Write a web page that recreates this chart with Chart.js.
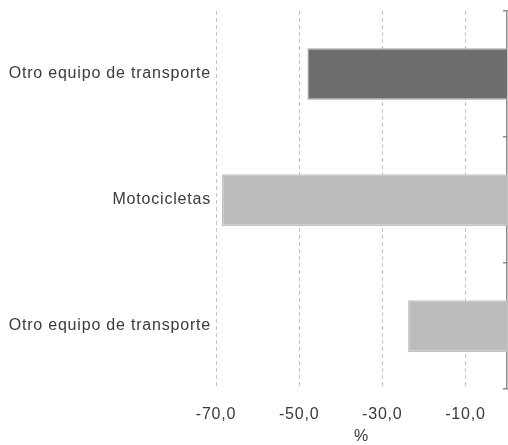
<!DOCTYPE html>
<html>
<head>
<meta charset="utf-8">
<script src="https://cdn.jsdelivr.net/npm/chart.js@4"></script>
<style>
  html, body { margin: 0; padding: 0; background: #ffffff; }
  #wrap { width: 508px; height: 445px; }
</style>
</head>
<body>
<div id="wrap"><canvas id="chart" width="508" height="445"></canvas></div>
<script>
// Chart data
const categories = ['Otro equipo de transporte', 'Motocicletas', 'Otro equipo de transporte'];
const values = [-48.0, -68.6, -23.8];
const barColors = ['#6d6d6d', '#bcbcbc', '#bcbcbc'];
const barBorders = ['#a3a3a3', '#c4c4c4', '#c4c4c4'];
const xTicks = [-70, -50, -30, -10];

const fontFamily = "'Liberation Sans', Arial, sans-serif";
const textColor = '#3a3a3a';

function formatTick(value) {
    return value.toFixed(1).replace('.', ',');
}

// Slight tracking on all text, like the original
const letterSpacingPlugin = {
    id: 'letterSpacing',
    beforeLayout: function(chart) { chart.ctx.letterSpacing = '0.8px'; },
    beforeDraw: function(chart) { chart.ctx.letterSpacing = '0.8px'; }
};

new Chart(document.getElementById('chart'), {
    type: 'bar',
    data: {
        labels: categories,
        datasets: [{
            data: values,
            backgroundColor: barColors,
            borderColor: barBorders,
            borderWidth: 1.5,
            categoryPercentage: 1.0,
            barPercentage: 0.41
        }]
    },
    plugins: [letterSpacingPlugin],
    options: {
        indexAxis: 'y',
        responsive: false,
        animation: false,
        layout: {
            padding: { top: 11, right: 1, bottom: 0, left: 0 }
        },
        plugins: {
            legend: { display: false },
            tooltip: { enabled: false }
        },
        scales: {
            x: {
                min: -70,
                max: 0,
                afterBuildTicks: function(scale) {
                    scale.ticks = xTicks.map(v => ({ value: v }));
                },
                grid: {
                    color: '#c4c4c4',
                    lineWidth: 1,
                    drawTicks: false
                },
                border: { display: false, dash: [4, 3] },
                ticks: {
                    padding: 15.5,
                    color: textColor,
                    font: { family: fontFamily, size: 16 },
                    callback: function(value) { return formatTick(value); }
                },
                title: {
                    display: true,
                    text: '%',
                    color: textColor,
                    font: { family: fontFamily, size: 16 },
                    padding: { top: -12.5, bottom: -1 }
                }
            },
            y: {
                position: 'left',
                afterFit: function(scale) {
                    scale.width = 216;
                    scale.paddingTop = 0;
                    scale.paddingBottom = 0;
                },
                grid: { display: false, drawTicks: false },
                border: { display: false },
                ticks: {
                    padding: 5,
                    color: textColor,
                    font: { family: fontFamily, size: 16 }
                }
            },
            y2: {
                type: 'category',
                position: 'right',
                labels: categories,
                offset: true,
                afterFit: function(scale) {
                    scale.paddingTop = 0;
                    scale.paddingBottom = 0;
                },
                grid: {
                    offset: true,
                    drawOnChartArea: false,
                    tickLength: -4,
                    color: '#8c8c8c',
                    lineWidth: 1.5
                },
                border: { color: '#8c8c8c', width: 1.5 },
                ticks: { display: false }
            }
        }
    }
});
</script>
</body>
</html>
